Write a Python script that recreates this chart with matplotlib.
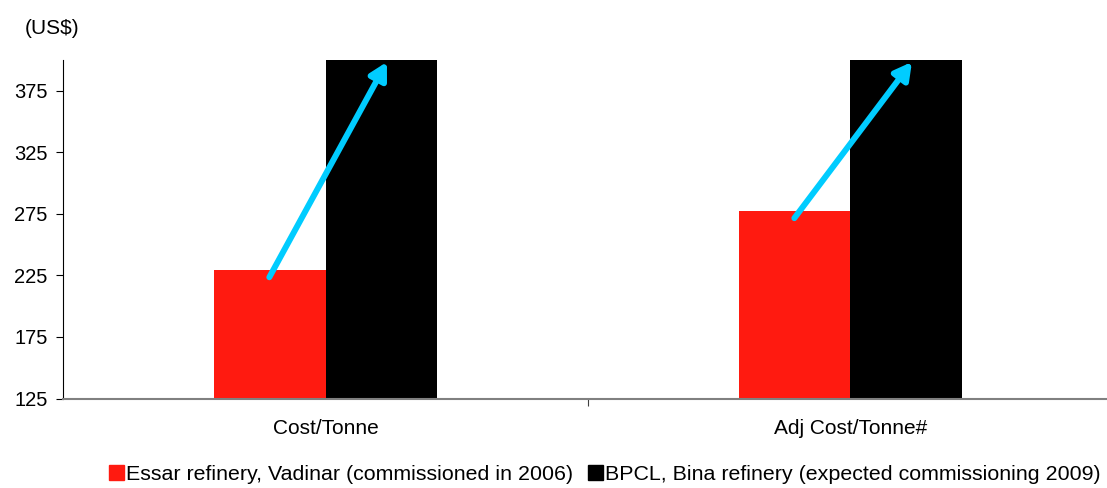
import matplotlib.pyplot as plt
import numpy as np
from matplotlib.patches import Patch

plt.rcParams['font.family'] = ['Liberation Sans', 'DejaVu Sans']

# Data
categories = ["Cost/Tonne", "Adj Cost/Tonne#"]
essar = [229, 277]
bpcl = [480, 500]   # clipped by the axis top in the original
series_names = ["Essar refinery, Vadinar (commissioned in 2006)",
                "BPCL, Bina refinery (expected commissioning 2009)"]
yticks = [125, 175, 225, 275, 325, 375]

fig = plt.figure(figsize=(11.07, 4.88), dpi=100)
ax = fig.add_axes([63 / 1107, 89.5 / 488, 1050 / 1107, 338.5 / 488])

x = np.arange(len(categories))
w = 0.2133
ax.bar(x - w / 2, essar, w, color="#FF1A10", zorder=2)
ax.bar(x + w / 2, bpcl, w, color="black", zorder=2)

# cyan arrows from Essar bar to BPCL bar
for i in range(len(categories)):
    ax.annotate("", xy=(x[i] + 0.117, 398.4), xytext=(x[i] - 0.107, essar[i] - 5.5),
                arrowprops=dict(arrowstyle="-|>,head_length=1.0,head_width=0.55",
                                color="#00CCFF", lw=4.3, shrinkA=0, shrinkB=0),
                zorder=3)

ax.set_xlim(-0.5, 1.5)
ax.set_ylim(125, 400)
ax.set_yticks(yticks)
ax.set_xticks(x)
ax.set_xticklabels(categories, fontsize=15)
ax.set_xticks([0.5], minor=True)
ax.tick_params(axis="x", which="major", length=0, pad=14.5)
ax.tick_params(axis="x", which="minor", length=5, color="#404040", width=0.8)
ax.tick_params(axis="y", length=5, width=0.8, labelsize=14.5, pad=6)

for s in ["top", "right"]:
    ax.spines[s].set_visible(False)
ax.spines["left"].set_linewidth(0.8)
ax.spines["bottom"].set_color("#808080")
ax.spines["bottom"].set_linewidth(1.5)

fig.text(25 / 1107, 1 - 28 / 488, "(US$)", fontsize=15, va="center", ha="left")

handles = [Patch(color="#FF1A10"), Patch(color="black")]
fig.legend(handles, series_names, loc="center", bbox_to_anchor=(605 / 1107, 1 - 474 / 488),
           ncol=2, frameon=False, fontsize=15.4, handlelength=0.7, handleheight=0.7,
           handletextpad=0.1, columnspacing=0.7, borderpad=0)

fig.savefig("out.png", dpi=100)
